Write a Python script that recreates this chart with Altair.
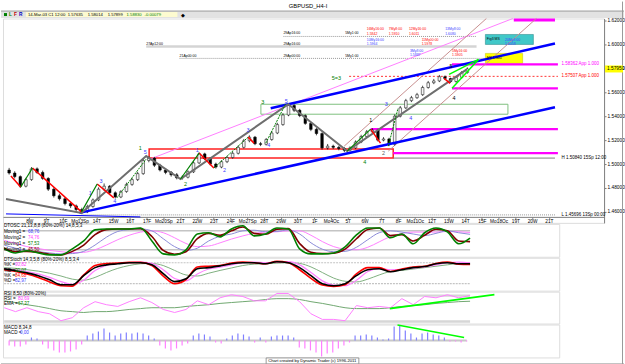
import altair as alt
import pandas as pd

FONT = "Liberation Sans"

# ---------------- price bars (3 bars per trading day) ----------------
bar_open = [1.4950, 1.4925, 1.4895, 1.4815, 1.4870, 1.4960, 1.4930, 1.4880, 1.4790, 1.4735,
            1.4710, 1.4670, 1.4650, 1.4620, 1.4600, 1.4645, 1.4700, 1.4790, 1.4815, 1.4760,
            1.4725, 1.4770, 1.4830, 1.4870, 1.4920, 1.5030, 1.5050, 1.4990, 1.4950, 1.4930,
            1.4910, 1.4885, 1.4890, 1.4935, 1.5010, 1.5085, 1.5045, 1.5000, 1.4975, 1.5020,
            1.5055, 1.5090, 1.5140, 1.5195, 1.5225, 1.5170, 1.5165, 1.5205, 1.5260, 1.5330,
            1.5410, 1.5490, 1.5450, 1.5405, 1.5340, 1.5290, 1.5255, 1.5135, 1.5150, 1.5140,
            1.5130, 1.5115, 1.5135, 1.5185, 1.5230, 1.5270, 1.5285, 1.5200, 1.5210, 1.5165,
            1.5400, 1.5470, 1.5530, 1.5555, 1.5580, 1.5640, 1.5680, 1.5695, 1.5730, 1.5715,
            1.5690, 1.5725, 1.5765]
bar_high = [1.4968, 1.4940, 1.4905, 1.4885, 1.4975, 1.4972, 1.4945, 1.4890, 1.4805, 1.4752,
            1.4722, 1.4685, 1.4662, 1.4635, 1.4660, 1.4712, 1.4805, 1.4838, 1.4825, 1.4772,
            1.4782, 1.4845, 1.4885, 1.4935, 1.5045, 1.5068, 1.5060, 1.5002, 1.4965, 1.4942,
            1.4925, 1.4905, 1.4948, 1.5025, 1.5098, 1.5095, 1.5058, 1.5012, 1.5032, 1.5068,
            1.5105, 1.5155, 1.5210, 1.5240, 1.5235, 1.5185, 1.5218, 1.5275, 1.5345, 1.5425,
            1.5505, 1.5500, 1.5462, 1.5415, 1.5352, 1.5302, 1.5265, 1.5168, 1.5162, 1.5152,
            1.5142, 1.5148, 1.5198, 1.5245, 1.5285, 1.5300, 1.5295, 1.5225, 1.5220, 1.5415,
            1.5485, 1.5545, 1.5570, 1.5595, 1.5655, 1.5695, 1.5712, 1.5745, 1.5740, 1.5722,
            1.5738, 1.5778, 1.5808]
bar_low = [1.4912, 1.4880, 1.4800, 1.4805, 1.4860, 1.4918, 1.4868, 1.4775, 1.4720, 1.4695,
           1.4655, 1.4632, 1.4605, 1.4583, 1.4590, 1.4635, 1.4690, 1.4775, 1.4748, 1.4712,
           1.4715, 1.4760, 1.4818, 1.4858, 1.4910, 1.5015, 1.4975, 1.4938, 1.4915, 1.4895,
           1.4872, 1.4870, 1.4880, 1.4925, 1.5000, 1.5032, 1.4988, 1.4962, 1.4965, 1.5008,
           1.5045, 1.5080, 1.5130, 1.5182, 1.5158, 1.5150, 1.5155, 1.5195, 1.5250, 1.5320,
           1.5400, 1.5435, 1.5392, 1.5328, 1.5275, 1.5240, 1.5120, 1.5122, 1.5125, 1.5115,
           1.5100, 1.5105, 1.5125, 1.5175, 1.5220, 1.5258, 1.5188, 1.5190, 1.5150, 1.5155,
           1.5390, 1.5460, 1.5518, 1.5545, 1.5570, 1.5630, 1.5668, 1.5685, 1.5702, 1.5678,
           1.5680, 1.5715, 1.5755]
bar_close = [1.4925, 1.4895, 1.4815, 1.4870, 1.4960, 1.4930, 1.4880, 1.4790, 1.4735, 1.4710,
             1.4670, 1.4650, 1.4620, 1.4600, 1.4645, 1.4700, 1.4790, 1.4815, 1.4760, 1.4725,
             1.4770, 1.4830, 1.4870, 1.4920, 1.5030, 1.5050, 1.4990, 1.4950, 1.4930, 1.4910,
             1.4885, 1.4890, 1.4935, 1.5010, 1.5085, 1.5045, 1.5000, 1.4975, 1.5020, 1.5055,
             1.5090, 1.5140, 1.5195, 1.5225, 1.5170, 1.5165, 1.5205, 1.5260, 1.5330, 1.5410,
             1.5490, 1.5450, 1.5405, 1.5340, 1.5290, 1.5255, 1.5135, 1.5150, 1.5140, 1.5130,
             1.5115, 1.5135, 1.5185, 1.5230, 1.5270, 1.5285, 1.5200, 1.5210, 1.5165, 1.5400,
             1.5470, 1.5530, 1.5555, 1.5580, 1.5640, 1.5680, 1.5695, 1.5730, 1.5715, 1.5690,
             1.5725, 1.5765, 1.5795]
bar_day = [round(-4.2 + k / 3.0, 4) for k in range(len(bar_close))]

# ---------------- indicator series (every 2nd bar) ----------------
ind_day = [round(-4.2 + 2 * j / 3.0, 4) for j in range(42)]
osc_green = [23, 10, 17, 10, 4, 4, 23, 48, 83, 86, 86, 86, 89, 48, 7, 4, 20, 70, 74, 61, 86,
             96, 64, 70, 89, 86, 23, 7, 7, 10, 29, 67, 89, 89, 58, 70, 39, 74, 89, 77, 39, 57]
osc_red = [25, 14, 15, 12, 6, 4, 15, 35, 68, 84, 86, 86, 87, 62, 18, 6, 14, 55, 72, 66, 80,
           92, 72, 69, 85, 87, 40, 12, 8, 9, 22, 55, 84, 89, 65, 68, 48, 66, 85, 80, 48, 46]
osc_blue = [35, 25, 18, 14, 10, 7, 8, 15, 35, 60, 78, 84, 86, 80, 55, 30, 18, 25, 48, 63, 70,
            80, 82, 77, 78, 83, 70, 42, 22, 14, 15, 28, 52, 74, 80, 76, 70, 65, 72, 80, 74, 69]
osc_mag = [50, 40, 30, 24, 18, 14, 11, 12, 20, 35, 52, 66, 76, 80, 74, 58, 40, 30, 32, 42, 54,
           64, 72, 76, 77, 80, 80, 66, 46, 30, 22, 20, 28, 45, 62, 72, 76, 76, 76, 78, 77, 75]
sto_black = [63, 57, 51, 43, 31, 17, 17, 43, 66, 74, 77, 80, 80, 74, 49, 26, 34, 63, 66, 71, 77,
             80, 80, 77, 83, 80, 66, 43, 20, 14, 20, 43, 60, 63, 54, 60, 66, 69, 77, 80, 77, 77]
sto_red = [60, 55, 48, 38, 25, 14, 13, 45, 72, 78, 79, 81, 81, 72, 42, 20, 32, 68, 70, 72, 79,
           82, 80, 77, 84, 80, 60, 35, 16, 12, 17, 48, 66, 66, 55, 62, 68, 70, 78, 82, 76, 75]
sto_mag = [62, 60, 55, 48, 38, 26, 18, 30, 58, 72, 78, 80, 82, 78, 60, 35, 28, 48, 62, 67, 74,
           80, 82, 80, 82, 83, 74, 52, 28, 16, 14, 30, 55, 63, 60, 61, 65, 68, 74, 80, 82, 80]
sto_green = [66, 64, 60, 56, 50, 42, 33, 30, 38, 52, 64, 72, 77, 78, 72, 58, 45, 42, 50, 58, 65,
             72, 76, 77, 79, 80, 78, 68, 52, 36, 27, 25, 33, 45, 55, 58, 62, 66, 70, 74, 78, 79]
rsi_vals = [52, 43, 52, 43, 38, 22, 29, 52, 66, 59, 55, 66, 75, 64, 48, 41, 48, 68, 59, 75, 82,
            78, 68, 68, 85, 85, 66, 38, 25, 25, 22, 57, 52, 55, 52, 73, 59, 78, 75, 82, 75, 80]
rsi_ema = [68, 64, 59, 55, 50, 45, 43, 41, 43, 43, 45, 48, 50, 52, 52, 52, 55, 57, 59, 62, 64,
           66, 68, 71, 73, 73, 71, 66, 62, 57, 52, 50, 50, 50, 52, 55, 57, 59, 62, 64, 66, 67]
macd_hist = [-5, -6, -6, -4, 3, 2, -4, -8, -10, -12, -12, -11, -9, -4, 5, 7, 9, 12, 8, 5,
             7, 8, 7, 8, 7, 5, 2, -5, -8, -10, -8, -5, -3, 5, 7, 6, 4, -2, -3, 2,
             5, 7, 6, 4, -2, 3, -2, 4, 5, 5, 5, 3, -7, -8, -10, -12, -16, -13, -12, -8,
             -5, -2, 5, 5, 6, 5, 3, 1, 2, 14, 15, 10, 7, 3, 7, 8, 6, 5, 3, -1,
             -1, -2, -1]

# ---------------- axis labels ----------------
day_ticks = list(range(-3, 29))
day_labels = ["8W", "9T", "10F", "Mo13Sp", "14T", "15W", "16T", "17F", "Mo20Sp", "21T", "22W",
              "23T", "24F", "Mo27Sp", "28T", "29W", "30T", "1F", "Mo4Oc", "5T", "6W", "7T",
              "8F", "Mo11Oc", "12T", "13W", "14T", "15F", "Mo18Oc", "19T", "20W", "21T"]
price_ticks = [1.46, 1.48, 1.50, 1.52, 1.54, 1.56, 1.58, 1.60, 1.62]

# ---------------- drawing tools (day, price) ----------------
top_dotted = [(12.164, 1.60667, 23.684, 1.60667), (5.965, 1.58833, 24.854, 1.58833)]
top_band = [(3.977, 1.59833, 23.684, 1.59833)]
magenta_h = [(22.222, 1.58333, 28.538, 1.58333), (22.222, 1.56333, 28.538, 1.56333),
             (17.368, 1.52917, 28.538, 1.52917), (18.713, 1.50917, 28.538, 1.50917)]
red_dash = [(16.082, 1.57333, 28.538, 1.57333)]
h_line = [(18.713, 1.505, 28.363, 1.505)]
l_line = [(0.117, 1.4575, 28.363, 1.4575)]
rect_red = [(4.152, 1.5125, 18.713, 1.505)]
rect_green = [(10.819, 1.55, 25.556, 1.54167)]
rect_yellow = [(24.211, 1.5925, 26.433, 1.58417)]
rect_cyan = [(24.211, 1.60833, 27.076, 1.6)]
rect_magenta = [(25.906, 1.62333, 28.363, 1.61917)]
blue_thick = [(0.0, 1.45917, 28.363, 1.5475), (11.404, 1.54667, 28.363, 1.60083)]
blue_thin = [(-4.386, 1.45833, 3.626, 1.45583)]
pink_line = [(4.211, 1.50417, 25.848, 1.62167)]
mauve_lines = [(15.789, 1.515, 24.269, 1.62167), (18.421, 1.51083, 27.251, 1.62167)]
swing_day = [-4.386, 0.117, 3.977, 6.023, 12.456, 15.965, 23.099]
swing_price = [1.47083, 1.45917, 1.50667, 1.4875, 1.55, 1.51083, 1.57917]
red_zz = [(-4.094, 1.49, -3.509, 1.48083), (-2.807, 1.49667, 0.117, 1.46),
          (1.053, 1.48333, 2.047, 1.47167), (7.135, 1.50917, 8.012, 1.49667),
          (10.058, 1.5225, 10.409, 1.5175), (17.368, 1.52917, 17.953, 1.5175),
          (21.754, 1.57167, 22.105, 1.5675)]
green_zz = [(-3.509, 1.48083, -2.807, 1.49667), (0.117, 1.46, 1.053, 1.48333),
            (6.023, 1.4875, 7.135, 1.50917), (15.965, 1.51083, 17.368, 1.52917)]
green_dash = [(2.222, 1.47167, 3.977, 1.50417), (8.012, 1.49667, 10.058, 1.5225),
              (11.111, 1.5175, 12.281, 1.55), (18.421, 1.515, 19.0, 1.5467)]
lime_lines = [(22.222, 1.56333, 23.801, 1.5875), (22.047, 1.575, 23.801, 1.5875)]

wave_labels = [
    (10.936, 1.55167, "3", "#008000"), (12.339, 1.5525, "5", "#4040ff"),
    (3.626, 1.51333, "1", "#008000"), (3.918, 1.5100, "5", "#4040ff"),
    (0.643, 1.47583, "1", "#4040ff"), (1.287, 1.48583, "3", "#4040ff"),
    (2.105, 1.46917, "4", "#4040ff"), (6.316, 1.48333, "2", "#008000"),
    (7.018, 1.51167, "1", "#4040ff"), (8.655, 1.4950, "2", "#4040ff"),
    (10.058, 1.52833, "3", "#4040ff"), (11.287, 1.51583, "4", "#4040ff"),
    (15.322, 1.57167, "5=3", "#008000"), (17.018, 1.50167, "4", "#008000"),
    (17.368, 1.53667, "1", "#000000"), (18.129, 1.50917, "2", "#606060"),
    (18.304, 1.5500, "3", "#4040ff"), (19.766, 1.53833, "4", "#4040ff"),
    (22.339, 1.5550, "4", "#000000"), (22.164, 1.58167, "5", "#000000"),
]
time_labels = [
    (12.164, 1.60917, "29Ap16:00", "#000000"), (3.977, 1.6000, "27Ap12:00", "#000000"),
    (12.164, 1.6000, "29Ap16:00", "#000000"), (5.965, 1.59, "21Ap00:00", "#000000"),
    (12.164, 1.59, "29Ap00:00", "#000000"), (15.848, 1.60917, "5My1:00", "#000000"),
    (15.848, 1.59, "5My1:00", "#000000"),
    (17.135, 1.6125, "16My16:00", "#ff0000"), (17.135, 1.6090, "1.5842", "#ff0000"),
    (18.45, 1.6125, "7My8:00", "#ff0000"), (18.45, 1.6090, "1.5910", "#ff0000"),
    (19.65, 1.6125, "12My16:00", "#ff0000"), (19.65, 1.6090, "1.6011", "#ff0000"),
    (21.813, 1.6125, "13My8:00", "#4040ff"), (21.813, 1.6090, "1.6080", "#4040ff"),
    (17.135, 1.6035, "10My16:00", "#4040ff"), (17.135, 1.6000, "1.5964", "#4040ff"),
    (20.409, 1.6035, "11My00:00", "#ff0000"), (20.409, 1.6000, "1.5978", "#ff0000"),
    (25.380, 1.6035, "20My8:00", "#4040ff"), (25.380, 1.6000, "1.6058", "#4040ff"),
    (19.708, 1.5945, "3My8:00", "#4040ff"), (19.708, 1.5910, "1.5887", "#4040ff"),
    (22.222, 1.5945, "5My16:00", "#ff0000"), (22.222, 1.5910, "1.5905", "#ff0000"),
    (24.30, 1.6042, "Fig3 MS", "#000000"), (24.30, 1.5883, "MS 1.000", "#000000"),
]
right_labels = [
    (28.75, 1.58333, "1.58362 App 1.000", "#ff00ff"),
    (28.75, 1.57333, "1.57507 App 1.000", "#ff0000"),
    (28.75, 1.5050, "H 1.50840 15Sp 12:00", "#000000"),
    (28.75, 1.4575, "L 1.45696 13Sp 00:00", "#000000"),
]

# ---------------- scales / helpers ----------------
xs_main = alt.Scale(domain=[-4.269, 30.994], nice=False, zero=False)
ys_main = alt.Scale(domain=[1.450833, 1.621667], nice=False, zero=False)
label_js = "[" + ",".join("'" + s + "'" for s in day_labels) + "]"
x_axis_main = alt.Axis(values=day_ticks, labelExpr=label_js + "[datum.value + 3]",
                       offset=-6, domainColor="#808080", tickColor="#808080", tickSize=2,
                       labelFontSize=4.8, labelFont=FONT, labelColor="#000000",
                       labelPadding=0, grid=False, labelOverlap=False, labelFlush=False)
y_axis_main = alt.Axis(orient="right", values=price_ticks, format=".5f", domainColor="#808080",
                       tickColor="#808080", tickSize=2, labelFontSize=4.8, labelFont=FONT,
                       labelColor="#000000", labelPadding=1, grid=False, labelFlush=False)


def MX(f="d"):
    return alt.X(f + ":Q", scale=xs_main, axis=x_axis_main, title=None)


def MY(f="p"):
    return alt.Y(f + ":Q", scale=ys_main, axis=y_axis_main, title=None)


def segs(rows, clip=False, **mk):
    df = pd.DataFrame(rows, columns=["d", "p", "d2", "p2"])
    return alt.Chart(df).mark_rule(clip=clip, **mk).encode(
        x=MX("d"), x2=alt.X2("d2"), y=MY("p"), y2=alt.Y2("p2"))


def rects(rows, clip=False, **mk):
    df = pd.DataFrame(rows, columns=["d", "p", "d2", "p2"])
    return alt.Chart(df).mark_rect(clip=clip, **mk).encode(
        x=MX("d"), x2=alt.X2("d2"), y=MY("p"), y2=alt.Y2("p2"))


def texts(rows, size=4.8, align="left"):
    df = pd.DataFrame(rows, columns=["d", "p", "t", "col"])
    return alt.Chart(df).mark_text(font=FONT, fontSize=size, align=align, baseline="middle").encode(
        x=MX("d"), y=MY("p"), text="t:N", color=alt.Color("col:N", scale=None))


one = pd.DataFrame({"z": [0]})


def deco_rect(x, x2, y, y2, **mk):
    return alt.Chart(one).mark_rect(**mk).encode(
        x=alt.value(x), x2=alt.value(x2), y=alt.value(y), y2=alt.value(y2))


def deco_text(x, y, t, size=4.8, color="#000000", align="left", weight="normal"):
    return alt.Chart(one).mark_text(font=FONT, fontSize=size, color=color, align=align,
                                    baseline="middle", fontWeight=weight).encode(
        x=alt.value(x), y=alt.value(y), text=alt.value(t))


def deco_rule(x, x2, y, y2, **mk):
    return alt.Chart(one).mark_rule(**mk).encode(
        x=alt.value(x), x2=alt.value(x2), y=alt.value(y), y2=alt.value(y2))


# ---------------- main price panel ----------------
candles = pd.DataFrame({"d": bar_day, "o": bar_open, "h": bar_high, "l": bar_low, "c": bar_close})
candles["lo"] = candles[["o", "c"]].min(axis=1)
candles["hi"] = candles[["o", "c"]].max(axis=1)
candles["dir"] = ["up" if c >= o else "down" for o, c in zip(bar_open, bar_close)]

wicks = alt.Chart(candles).mark_rule(color="#000000", strokeWidth=0.7).encode(
    x=MX(), y=MY("l"), y2=alt.Y2("h"))
bodies = alt.Chart(candles).mark_bar(size=2.6, stroke="#000000", strokeWidth=0.5).encode(
    x=MX(), y=MY("lo"), y2=alt.Y2("hi"),
    fill=alt.Fill("dir:N", scale=alt.Scale(domain=["up", "down"], range=["#f4f4f4", "#000000"]),
                  legend=None))

swing = alt.Chart(pd.DataFrame({"d": swing_day, "p": swing_price})).mark_line(
    color="#6e6e6e", strokeWidth=2, clip=True).encode(x=MX(), y=MY())

last = pd.DataFrame({"d": [bar_day[-1]], "p": [bar_close[-1]], "t": [f"{bar_close[-1]:.5f}"]})
price_box = alt.Chart(last).mark_rect(fill="#ffff00", yOffset=-3.5, y2Offset=3.5).encode(
    x=alt.value(604), x2=alt.value(622), y=MY("p"), y2=alt.Y2("p"))
price_txt = alt.Chart(last).mark_text(font=FONT, fontSize=4.8, align="left", baseline="middle").encode(
    x=alt.value(606), y=MY("p"), text="t:N")

toolbar = [
    deco_rect(-2, 623, -17, -7, fill="#ffffff"),
    deco_rect(-2, 623, -7.5, -0.5, fill="#e2e2e2"),
    deco_rule(-2, 623, -7.5, -7.5, color="#9a9a9a", strokeWidth=1),
    deco_rect(23, 175, -6.5, -1.5, fill="#fdfbd0"),
    deco_rect(1, 4, -5.5, -2.5, fill="#008000"),
    deco_text(6, -4, "L", 4.8, "#008000", weight="bold"),
    deco_text(11, -4, "F", 4.8, "#c00000", weight="bold"),
    deco_text(16, -4, "R", 4.8, "#0000c0", weight="bold"),
    deco_text(25, -4, "14-Mar-03 C1 12:00", 4.2),
    deco_text(65, -4, "1.57635", 4.2),
    deco_text(85, -4, "1.58014", 4.2),
    deco_text(105, -4, "1.57899", 4.2),
    deco_text(124, -4, "1.58830", 4.2, "#008000"),
    deco_text(142, -4, "-0.00079", 4.2, "#008000"),
    deco_text(179, -4, "\u25c6", 5),
    deco_text(306, -12.5, "GBPUSD_H4-I", 5.8, align="center"),
    deco_rule(621.5, 621.5, -17, 347, color="#9a9a9a", strokeWidth=1),
]

main = alt.layer(
    *toolbar,
    segs(top_dotted, color="#808080", strokeWidth=0.8, strokeDash=[1, 1]),
    segs(top_band, color="#d4d4d4", strokeWidth=2.5),
    rects(rect_green, fill="transparent", stroke="#80c080", strokeWidth=1),
    rects(rect_red, fill="transparent", stroke="#ff2020", strokeWidth=1.5),
    rects(rect_cyan, fill="#40c8c8", stroke="#208080", strokeWidth=0.5),
    rects(rect_yellow, fill="#ffff00", stroke="#c0c000", strokeWidth=0.5),
    rects(rect_magenta, clip=True, fill="#ff00ff"),
    segs(magenta_h, color="#ff00ff", strokeWidth=2.2),
    segs(red_dash, color="#ff0000", strokeWidth=0.8, strokeDash=[2, 2]),
    segs(h_line, color="#808080", strokeWidth=1),
    segs(l_line, color="#808080", strokeWidth=0.8, strokeDash=[1, 1]),
    segs(pink_line, color="#ff80ff", strokeWidth=1),
    segs(mauve_lines, color="#c89090", strokeWidth=1),
    wicks, bodies,
    segs(blue_thick, color="#0000ff", strokeWidth=2.5),
    segs(blue_thin, clip=True, color="#0000ff", strokeWidth=1),
    swing,
    segs(red_zz, color="#ff0000", strokeWidth=1.5),
    segs(green_zz, color="#008000", strokeWidth=1.2),
    segs(green_dash, color="#008000", strokeWidth=1, strokeDash=[2, 1]),
    segs(lime_lines, color="#00ff00", strokeWidth=1.5),
    texts(wave_labels, 5.5, "center"),
    texts(time_labels, 3.5),
    texts(right_labels, 4.5),
    price_box, price_txt,
).properties(width=603, height=205)

# ---------------- indicator panels ----------------
xs_ind = alt.Scale(domain=[-4.269, 28.363], nice=False, zero=False)


def IX(f="d"):
    return alt.X(f + ":Q", scale=xs_ind, axis=None)


def ind_line(vals, ys, color, width, interp="monotone"):
    df = pd.DataFrame({"d": ind_day, "v": vals})
    return alt.Chart(df).mark_line(color=color, strokeWidth=width, interpolate=interp, clip=True).encode(
        x=IX(), y=alt.Y("v:Q", scale=ys, axis=None))


def levels(vals, ys, color, width, dash=None):
    df = pd.DataFrame({"d": [bar_day[0]] * len(vals), "d2": [bar_day[-1]] * len(vals), "v": vals})
    mk = dict(color=color, strokeWidth=width)
    if dash:
        mk["strokeDash"] = dash
    return alt.Chart(df).mark_rule(**mk).encode(
        x=IX("d"), x2=alt.X2("d2"), y=alt.Y("v:Q", scale=ys, axis=None))


def legend_rows(rows, size=4.6):
    out = []
    for x, y, t, col in rows:
        out.append(deco_text(x, y, t, size, col))
    return out


ys1 = alt.Scale(domain=[-2.1, 102.1], nice=False, zero=False)
p1 = alt.layer(
    levels([80, 20], ys1, "#c4c4c4", 1.5),
    ind_line(osc_mag, ys1, "#ff80ff", 1),
    ind_line(osc_blue, ys1, "#8c8cd8", 1),
    ind_line(osc_red, ys1, "#800000", 1.6),
    ind_line(osc_green, ys1, "#008000", 1.6),
    *legend_rows([
        (1, 2.5, "DTOSC 21,13,8,8 (80%-20%) 14,8,5,3", "#000000"),
        (1, 8.5, "Moving1 =", "#000000"), (25, 8.5, "68,76", "#4040ff"),
        (1, 14.3, "Moving2 =", "#000000"), (25, 14.3, "74,76", "#ff40ff"),
        (1, 20.2, "Moving1 =", "#000000"), (25, 20.2, "57,53", "#008000"),
        (1, 26, "Moving2 =", "#000000"), (25, 26, "45,50", "#800000"),
    ]),
).properties(width=558, height=33)

ys2 = alt.Scale(domain=[0, 94.3], nice=False, zero=False)
p2 = alt.layer(
    levels([80, 20], ys2, "#c4c4c4", 1.2, [2, 1]),
    ind_line(sto_green, ys2, "#80b080", 1),
    ind_line(sto_mag, ys2, "#ff80ff", 1.2),
    ind_line(sto_red, ys2, "#ff0000", 1.6),
    ind_line(sto_black, ys2, "#000000", 1.6),
    *legend_rows([
        (1, 2.5, "DTStoch 14,3,5,8 (80%-20%) 8,5,3,4", "#000000"),
        (1, 7.7, "%K =", "#000000"), (12, 7.7, "90,82", "#ff40ff"),
        (1, 12.9, "%D =", "#000000"), (12, 12.9, "90,07", "#008000"),
        (1, 18.1, "%K =", "#000000"), (12, 18.1, "84,68", "#ff0000"),
        (1, 23.3, "%D =", "#000000"), (12, 23.3, "82,97", "#4040ff"),
    ]),
).properties(width=558, height=33)

ys3 = alt.Scale(domain=[15.4, 89.2], nice=False, zero=False)
rsi_trend = pd.DataFrame({"d": [18.421], "v": [50.0], "d2": [24.561], "v2": [82.3]})
p3 = alt.layer(
    levels([80, 20], ys3, "#d6d6d6", 2.5),
    ind_line(rsi_ema, ys3, "#70a870", 1),
    ind_line(rsi_vals, ys3, "#ff80ff", 1, "linear"),
    alt.Chart(rsi_trend).mark_rule(color="#00ff00", strokeWidth=1.8).encode(
        x=IX("d"), x2=alt.X2("d2"), y=alt.Y("v:Q", scale=ys3, axis=None), y2=alt.Y2("v2")),
    *legend_rows([
        (1, 2, "RSI 8,50 (80%-20%)", "#000000"),
        (1, 7, "RSI =", "#000000"), (15, 7, "80,69", "#ff40ff"),
        (1, 12, "EMA =", "#000000"), (15, 12, "67,37", "#008000"),
    ]),
).properties(width=558, height=32)

ys4 = alt.Scale(domain=[-17, 16], nice=False, zero=False)
macd_df = pd.DataFrame({"d": bar_day, "v": macd_hist})
macd_df["z"] = 0
macd_df["sgn"] = ["pos" if v >= 0 else "neg" for v in macd_hist]
macd_trend = pd.DataFrame({"d": [19.0], "v": [15.5], "d2": [22.98], "v2": [3.0]})
p4 = alt.layer(
    levels([0], ys4, "#c8c8c8", 2),
    alt.Chart(macd_df).mark_bar(size=1.2).encode(
        x=IX("d"), y=alt.Y("v:Q", scale=ys4, axis=None), y2=alt.Y2("z"),
        color=alt.Color("sgn:N", scale=alt.Scale(domain=["pos", "neg"], range=["#8080ff", "#ff80ff"]),
                        legend=None)),
    alt.Chart(macd_trend).mark_rule(color="#00ff00", strokeWidth=1.5).encode(
        x=IX("d"), x2=alt.X2("d2"), y=alt.Y("v:Q", scale=ys4, axis=None), y2=alt.Y2("v2")),
    *legend_rows([
        (1, 3, "MACD 8,34,8", "#000000"),
        (1, 8.3, "MACD =", "#000000"), (17, 8.3, "0,00", "#4040ff"),
    ]),
    deco_rect(264, 357, 33.5, 40, fill="#ffffff", stroke="#808080", strokeWidth=0.8),
    deco_text(266, 37, "Chart created by Dynamic Trader (c) 1996-2011", 4.2),
    deco_rule(-2, 623, 39.5, 39.5, color="#9a9a9a", strokeWidth=1),
).properties(width=558, height=33)

chart = alt.vconcat(main, p1, p2, p3, p4, spacing=1, bounds="flush").properties(
    padding={"left": 0, "top": 0, "right": 0, "bottom": 0}
).configure_view(stroke="#5a5a5a", strokeWidth=1).configure(background="#ffffff", font=FONT)

chart.save("out.html", embed_options={"renderer": "svg", "actions": False})
